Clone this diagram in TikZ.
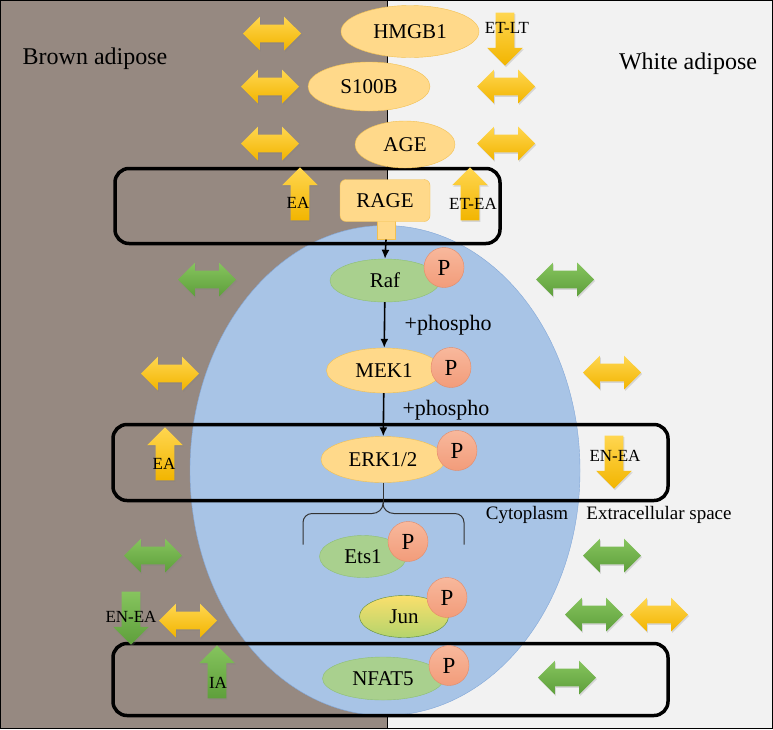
\documentclass[tikz,border=0pt]{standalone}
\usepackage{fontspec}
\setmainfont{Liberation Serif}
\usetikzlibrary{shapes.arrows,shapes.geometric,shadows,arrows.meta}

\definecolor{brownfat}{HTML}{968981}
\definecolor{whitefat}{HTML}{F2F2F2}
\definecolor{cellblue}{HTML}{A8C4E6}
\definecolor{cellrim}{HTML}{82A7D8}
\definecolor{molorange}{HTML}{FFD98A}
\definecolor{molorangerim}{HTML}{F2C050}
\definecolor{molgreen}{HTML}{A9D08E}
\definecolor{molgreenrim}{HTML}{8EBF72}
\definecolor{phostop}{HTML}{F8B89C}
\definecolor{phosbot}{HTML}{F29C7A}
\definecolor{phosrim}{HTML}{E48A66}
\definecolor{juntop}{HTML}{FADF6C}
\definecolor{junbot}{HTML}{B4D46C}
\definecolor{junrim}{HTML}{5E8C3A}
\definecolor{yeltop}{HTML}{FFD650}
\definecolor{yelbot}{HTML}{F2B500}
\definecolor{grntop}{HTML}{86C45E}
\definecolor{grnbot}{HTML}{5E9F3B}

\tikzset{%
  >=latex,
  mol/.style={ellipse, inner sep=0pt, thin, font=\fontsize{21}{24}\selectfont},
  orangemol/.style={mol, fill=molorange, draw=molorangerim},
  greenmol/.style={mol, fill=molgreen, draw=molgreenrim},
  phos/.style={circle, minimum size=40pt, inner sep=0pt, thin, top color=phostop,
    bottom color=phosbot, draw=phosrim, font=\fontsize{23}{24}\selectfont},
  compartment/.style={line width=3.5pt, rounded corners=14pt},
  yelfill/.style={top color=yeltop, bottom color=yelbot},
  grnfill/.style={top color=grntop, bottom color=grnbot},
  dblarrow/.style={double arrow, minimum height=58pt, minimum width=33pt,
    inner sep=8.5pt, double arrow head extend=8pt, draw=none,
    drop shadow={shadow xshift=1pt, shadow yshift=-1.5pt, opacity=.25}},
  fatarrow/.style={single arrow, minimum height=53pt, minimum width=35pt,
    inner sep=9pt, single arrow head extend=8.5pt, draw=none,
    drop shadow={shadow xshift=1pt, shadow yshift=-1.5pt, opacity=.25}},
  uparrow/.style={fatarrow, shape border rotate=90, top color=#1top, bottom color=#1bot},
  downarrow/.style={fatarrow, shape border rotate=270, top color=#1top, bottom color=#1bot},
  small/.style={font=\fontsize{17}{20}\selectfont},
  side/.style={font=\fontsize{24}{26}\selectfont},
  place/.style={font=\fontsize{19}{22}\selectfont},
  phosarrow/.style={-{Latex[length=9pt,width=8pt]}, line width=1.6pt}
}

\begin{document}
\begin{tikzpicture}[x=1pt,y=-1pt,thick]
  % brown and white adipose
  \fill[brownfat] (0,0) rectangle (387,728);
  \fill[whitefat] (387,0) rectangle (773,728);
  \draw[line width=1pt] (387,0) -- (387,728);
  \useasboundingbox (0,0) rectangle (773,728);

  % the cell
  \node[ellipse, minimum width=390pt, minimum height=490pt, inner sep=0pt,
        fill=cellblue, draw=cellrim, thin] (cell) at (385,470) {};

  \draw[compartment] (115,168) rectangle (500,243);
  \draw[compartment] (113,424) rectangle (668,500);
  \draw[compartment] (113,643) rectangle (668,715);

  % ligands and receptor
  \node[orangemol, minimum width=138pt, minimum height=52pt] (hmgb) at (410,31) {HMGB1};
  \node[orangemol, minimum width=122pt, minimum height=49pt] (s100b) at (369,86) {S100B};
  \node[orangemol, minimum width=100pt, minimum height=47pt] (age) at (405,144) {AGE};
  \node[fill=molorange, draw=molorangerim, thin, minimum width=18pt, minimum height=20pt,
        inner sep=0pt] (stub) at (386,229) {};
  \node[fill=molorange, draw=molorangerim, thin, rounded corners=6pt, minimum width=90pt,
        minimum height=42pt, inner sep=0pt, font=\fontsize{21}{24}\selectfont] (rage) at (385,200) {RAGE};

  % kinase cascade
  \node[greenmol, minimum width=110pt, minimum height=43pt] (raf) at (385,280) {Raf};
  \node[phos] (praf) at (444,267) {P};
  \node[orangemol, minimum width=115pt, minimum height=45pt] (mek) at (384,370) {MEK1};
  \node[phos] (pmek) at (451,367) {P};
  \node[orangemol, minimum width=124pt, minimum height=46pt] (erk) at (383,459) {ERK1/2};
  \node[phos] (perk) at (457,450) {P};

  \draw[phosarrow] (stub.south) -- (raf.north);
  \draw[phosarrow] (raf) -- (mek) node[midway, right=16pt, font=\fontsize{22}{24}\selectfont] {+phospho};
  \draw[phosarrow] (mek) -- (erk);
  \node[font=\fontsize{22}{24}\selectfont] (phos2) at (446,410) {+phospho};

  % targets
  \coordinate (tip) at (383,503);
  \draw[line width=1pt, black!80] (erk.south) -- (tip);
  \draw[line width=1pt, black!80] (303,544) -- (303,522) to[out=90,in=180] (312,513) -- (372,513)
     to[out=0,in=-90] (tip) to[out=-90,in=180] (394,513) -- (455,513) to[out=0,in=90] (464,522) -- (464,544);

  \node[greenmol, minimum width=87pt, minimum height=42pt] (ets) at (363,556) {Ets1};
  \node[phos] (pets) at (408,541) {P};
  \node[mol, top color=juntop, bottom color=junbot, draw=junrim, minimum width=89pt,
        minimum height=42pt] (jun) at (404,616) {Jun};
  \node[phos] (pjun) at (447,597) {P};
  \node[greenmol, minimum width=121pt, minimum height=43pt] (nfat) at (383,678) {NFAT5};
  \node[phos] (pnfat) at (449,665) {P};

  % exchange between the two depots
  \foreach \n/\x/\y in {1/272/33, 2/270/86, 3/270/143, 4/506/86, 5/506/143,
                        6/170/373, 7/612/372, 8/188/620, 9/659/614}
    \node[dblarrow, yelfill] (ydbl\n) at (\x,\y) {};
  \foreach \n/\x/\y in {1/207/279, 2/565/279, 3/153/555, 4/612/555,
                        5/594/614, 6/567/677}
    \node[dblarrow, grnfill] (gdbl\n) at (\x,\y) {};

  \node[downarrow=yel] (etlt) at (505,34) {};
  \node[uparrow=yel] (ea1) at (300,198) {};
  \node[uparrow=yel] (etea) at (470,198) {};
  \node[uparrow=yel] (ea2) at (165,458) {};
  \node[downarrow=yel] (enea1) at (614,457) {};
  \node[downarrow=grn] (enea2) at (131,613) {};
  \node[uparrow=grn] (ia) at (217,676) {};

  \node[small] (letlt) at (507,27) {ET-LT};
  \node[small] (lea1) at (298,202) {EA};
  \node[small] (letea) at (473,203) {ET-EA};
  \node[small] (lea2) at (164,463) {EA};
  \node[small] (lenea1) at (615,455) {EN-EA};
  \node[small] (lenea2) at (131,616) {EN-EA};
  \node[small] (lia) at (218,682) {IA};

  % place names
  \node[side] (brown) at (95,58) {Brown adipose};
  \node[side] (white) at (688,63) {White adipose};
  \node[place] (cyto) at (527,514) {Cytoplasm};
  \node[place] (extra) at (659,514) {Extracellular space};

  \draw[line width=1.5pt] (0,0) rectangle (773,728);
\end{tikzpicture}
\end{document}
